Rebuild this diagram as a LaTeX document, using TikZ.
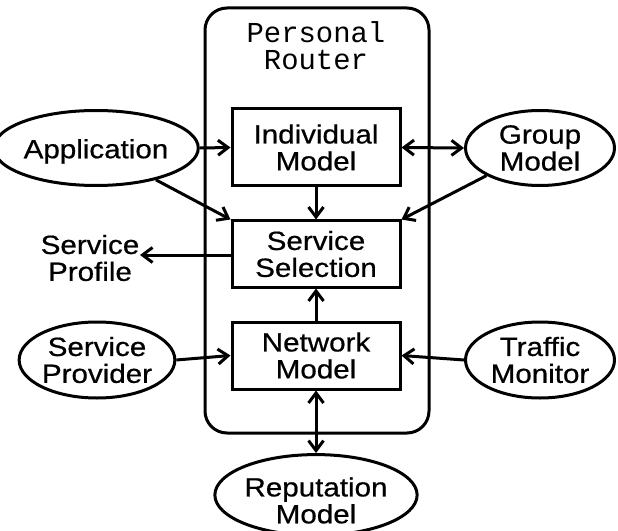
\documentclass[tikz,border=0pt]{standalone}
\usepackage{fontspec}
\setmainfont[FakeStretch=1.12,FakeBold=0.6]{Liberation Sans}
\newfontfamily\monofont{Liberation Mono}
\usetikzlibrary{shapes.geometric,arrows.meta}
\begin{document}
\begin{tikzpicture}[x=1bp,y=-1bp,
  every node/.style={font=\fontsize{26.5}{27}\selectfont, align=center},
  boxnode/.style={draw, line width=3bp, minimum width=168bp, inner sep=0pt},
  ellnode/.style={draw, ellipse, line width=3bp, inner sep=0pt},
  conn/.style={line width=3bp, -{Straight Barb[length=10bp,width=15bp,line width=3bp]}},
  dconn/.style={line width=3bp, {Straight Barb[length=10bp,width=15bp,line width=3bp]}-{Straight Barb[length=10bp,width=15bp,line width=3bp]}}]
\useasboundingbox (0,0) rectangle (618,531);
\fill[white] (0,0) rectangle (618,531);
% outer router frame
\draw[line width=3bp, rounded corners=22bp] (205,8) rectangle (429,433);
\node[font=\monofont\fontsize{29}{27}\selectfont] (pr) at (316,45.5) {Personal\\Router};
% boxes
\node[boxnode, minimum height=77bp] (im) at (316,147.5) {Individual\\Model};
\node[boxnode, minimum height=66bp] (ss) at (316,254) {Service\\Selection};
\node[boxnode, minimum height=67bp] (nm) at (316,355.5) {Network\\Model};
% ellipses
\node[ellnode, minimum width=159bp, minimum height=75bp] (app) at (96,148) {\rule{0pt}{26bp}Application};
\node[ellnode, minimum width=149bp, minimum height=75bp] (gm) at (540,148) {Group\\Model};
\node[ellnode, minimum width=142bp, minimum height=76bp] (sp) at (97,360) {Service\\Provider};
\node[ellnode, minimum width=149bp, minimum height=76bp] (tm) at (540,360) {Traffic\\Monitor};
\node[ellnode, minimum width=189bp, minimum height=76bp] (rm) at (316,495) {\rule{0pt}{30bp}Reputation\\Model};
% service profile text
\node (prof) at (90,258) {Service\\Profile};
\coordinate (proftip) at (140,255);
% connectors
\draw[conn] (app.east) -- (im.west);
\draw[dconn] (im.east) -- (gm.west);
\draw[conn] (app) -- (ss.north west);
\draw[conn] (gm) -- (ss.north east);
\draw[conn] (im.south) -- (ss.north);
\draw[conn] (ss.west |- proftip) -- (proftip);
\draw[conn] (nm.north) -- (ss.south);
\draw[conn] (sp.east) -- (nm.west);
\draw[conn] (tm.west) -- (nm.east);
\draw[dconn] (nm.south) -- (rm.north);
\end{tikzpicture}
\end{document}
